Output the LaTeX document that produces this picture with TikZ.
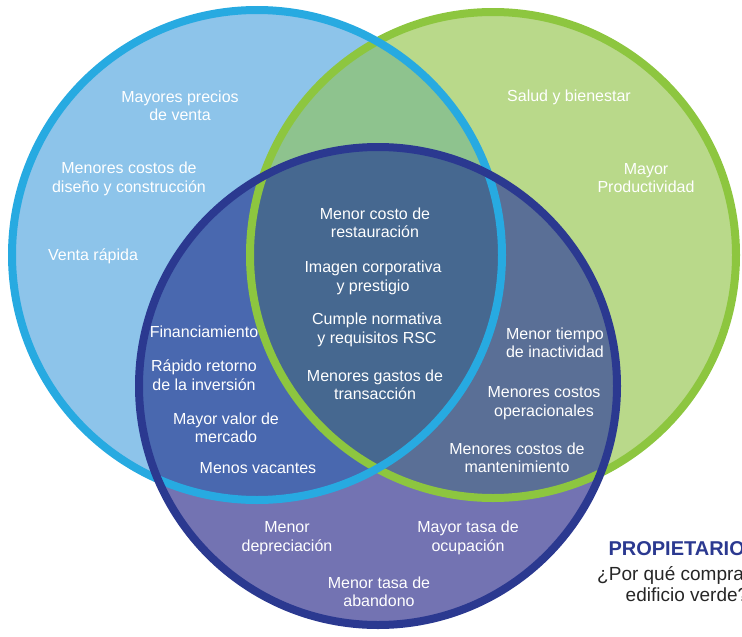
\documentclass[tikz,border=0pt]{standalone}
\usepackage{fontspec}
\setmainfont{Liberation Sans}

\definecolor{azulfondo}{HTML}{8DC4EA}
\definecolor{azulborde}{HTML}{27AAE1}
\definecolor{verdefondo}{HTML}{B9D98A}
\definecolor{verdeborde}{HTML}{8DC63F}
\definecolor{azulverde}{HTML}{8EC38E}
\definecolor{morado}{HTML}{7373B2}
\definecolor{marino}{HTML}{2B3990}
\definecolor{izquierda}{HTML}{4968AF}
\definecolor{derecha}{HTML}{5A6F96}
\definecolor{centro}{HTML}{466890}

\begin{document}
\begin{tikzpicture}[x=1pt,y=-1pt,
    etiqueta/.style={text=white,align=center,font=\fontsize{16}{18.5}\selectfont}]

\clip (0,0) rectangle (742,637);

% Centres of the three circles
\coordinate (desarrollador) at (257,255);
\coordinate (ocupante) at (493,255);
\coordinate (propietario) at (378,386);

% Fill the two upper circles and their overlap
\fill[azulfondo] (desarrollador) circle (245);
\fill[verdefondo] (ocupante) circle (243);
\begin{scope}
    \clip (desarrollador) circle (245);
    \fill[azulverde] (ocupante) circle (243);
\end{scope}

% Fill the lower circle and the parts it shares
\fill[morado] (propietario) circle (239);
\begin{scope}
    \clip (propietario) circle (239);
    \fill[izquierda] (desarrollador) circle (245);
    \fill[derecha] (ocupante) circle (243);
    \clip (desarrollador) circle (245);
    \fill[centro] (ocupante) circle (243);
\end{scope}

% Draw the borders
\draw[verdeborde,line width=8] (ocupante) circle (243);
\draw[azulborde,line width=8] (desarrollador) circle (245);
\draw[marino,line width=8] (propietario) circle (239);

% Draw the labels of all the regions
\foreach \nombre/\x/\y/\texto in {
    precios/180/106/{Mayores precios\\de venta},
    diseno/129/179/{Menores costos de\\diseño y construcción},
    venta/93/256/{Venta rápida},
    salud/569/97/{Salud y bienestar},
    productividad/646/178/{Mayor\\Productividad},
    restauracion/375/223/{Menor costo de\\restauración},
    imagen/373/278/{Imagen corporativa\\y prestigio},
    normativa/377/330/{Cumple normativa\\y requisitos RSC},
    transaccion/375/385/{Menores gastos de\\transacción},
    financiamiento/204/332/{Financiamiento},
    retorno/204/375/{Rápido retorno\\de la inversión},
    valor/226/428/{Mayor valor de\\mercado},
    vacantes/258/468/{Menos vacantes},
    inactividad/555/343/{Menor tiempo\\de inactividad},
    operacionales/544/403/{Menores costos\\operacionales},
    mantenimiento/517/458/{Menores costos de\\mantenimiento},
    depreciacion/287/538/{Menor\\depreciación},
    ocupacion/468/538/{Mayor tasa de\\ocupación},
    abandono/379/592/{Menor tasa de\\abandono}} {
    \node[etiqueta] (\nombre) at (\x,\y) {\texto};
}

% Draw the title at the corner
\node[anchor=west,text=marino,font=\fontsize{20}{22}\selectfont\bfseries] (titulo) at (605,549) {PROPIETARIO};
\node[align=center,text=black!85,font=\fontsize{19}{21}\selectfont] (pregunta) at (687,584) {¿Por qué comprar un\\edificio verde?};

\end{tikzpicture}
\end{document}
